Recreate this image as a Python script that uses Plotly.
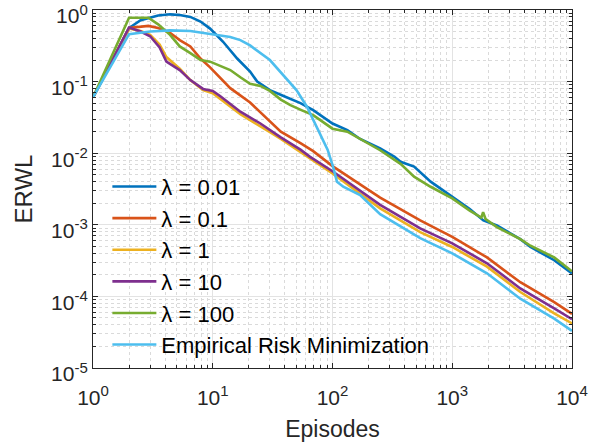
import plotly.graph_objects as go

# lambda = 0.01
x_l001 = [1, 2, 2.5, 3, 3.5, 4.4, 5.3, 6.5, 7.9, 9.5, 12.2, 16, 20.5, 23.5, 30, 39, 54, 69, 79,
          100, 133, 170, 250, 330, 370, 480, 660, 1000, 1400, 1820, 2360, 3700, 4500, 7100, 10000]
y_l001 = [0.060, 0.56, 0.72, 0.79, 0.84, 0.87, 0.85, 0.80, 0.69, 0.55, 0.36, 0.21, 0.138, 0.10, 0.076,
          0.063, 0.050, 0.040, 0.034, 0.026, 0.021, 0.0158, 0.0117, 0.0089, 0.0076, 0.0065, 0.0040,
          0.00245, 0.00166, 0.00115, 0.00098, 0.00063, 0.00049, 0.00032, 0.00021]

# lambda = 0.1
x_l01 = [1, 2, 2.9, 3.5, 4.4, 5.3, 6.5, 7.9, 9.5, 14, 20.5, 30, 37, 54, 69, 100, 250, 540, 1000,
         1950, 3700, 7100, 10000]
y_l01 = [0.060, 0.56, 0.60, 0.56, 0.48, 0.38, 0.31, 0.21, 0.158, 0.081, 0.051, 0.028, 0.020, 0.0138,
         0.0107, 0.0066, 0.0024, 0.00115, 0.00068, 0.00035, 0.000158, 0.000083, 0.000057]

# lambda = 1
x_l1 = [1, 2, 2.5, 3, 3.6, 4.1, 5.3, 6.5, 8.3, 10, 17, 25, 31, 37, 54, 65, 100, 250, 540, 1000,
        1950, 3700, 7100, 10000]
y_l1 = [0.060, 0.55, 0.51, 0.45, 0.33, 0.22, 0.151, 0.105, 0.076, 0.069, 0.035, 0.024, 0.019,
        0.0158, 0.0103, 0.0085, 0.0052, 0.0017, 0.00079, 0.00049, 0.00026, 0.000115, 0.000058,
        0.000042]

# lambda = 10
x_l10 = [1, 2, 2.5, 3, 3.6, 4.1, 5.3, 6.5, 8.3, 10, 11.5, 17, 25, 31, 37, 54, 65, 100, 250, 540,
         1000, 1950, 3700, 7100, 10000]
y_l10 = [0.060, 0.57, 0.50, 0.43, 0.30, 0.19, 0.145, 0.105, 0.079, 0.074, 0.063, 0.038, 0.026, 0.0204,
         0.0166, 0.0112, 0.0089, 0.0056, 0.0019, 0.00089, 0.00055, 0.00029, 0.000129, 0.000068,
         0.000048]

# lambda = 100
x_l100 = [1, 2, 2.9, 3.5, 4.4, 5.3, 6.5, 7.9, 9.5, 14, 17, 20.5, 25, 30, 37, 44.5, 55, 69, 100,
          133, 250, 370, 480, 660, 1000, 1400, 1750, 1810, 1900, 2360, 3700, 4500, 7100, 10000]
y_l100 = [0.060, 0.78, 0.78, 0.63, 0.45, 0.31, 0.25, 0.20, 0.19, 0.145, 0.115, 0.093, 0.087, 0.074,
          0.056, 0.047, 0.040, 0.034, 0.022, 0.020, 0.011, 0.0071, 0.0047, 0.0034, 0.00234,
          0.00158, 0.00126, 0.00150, 0.0012, 0.00093, 0.00063, 0.00051, 0.00035, 0.000224]

# empirical risk minimization
x_erm = [1, 2, 3, 4.4, 6.5, 10, 14, 17, 20.5, 30, 39, 50, 61, 74, 84, 91, 101, 109, 123, 170, 250,
         540, 1000, 1950, 3700, 7100, 10000]
y_erm = [0.060, 0.46, 0.50, 0.52, 0.51, 0.46, 0.42, 0.38, 0.32, 0.20, 0.123, 0.076, 0.045, 0.023,
         0.0141, 0.0112, 0.0065, 0.0040, 0.0034, 0.0026, 0.00141, 0.00065, 0.00040, 0.00021,
         0.000093, 0.000049, 0.000033]

series = [
    ('\u03bb = 0.01', x_l001, y_l001, '#0072BD'),
    ('\u03bb = 0.1', x_l01, y_l01, '#D95319'),
    ('\u03bb = 1', x_l1, y_l1, '#EDB120'),
    ('\u03bb = 10', x_l10, y_l10, '#7E2F8E'),
    ('\u03bb = 100', x_l100, y_l100, '#77AC30'),
    ('Empirical Risk Minimization', x_erm, y_erm, '#4DBEEE'),
]

fig = go.Figure()
for i, (name, xs, ys, color) in enumerate(series):
    fig.add_trace(go.Scatter(x=xs, y=ys, mode='lines', name=name, legendgroup=str(i),
                             line=dict(color=color, width=2.6)))

sup = '10<sup><span style="font-size:15px">%s</span></sup>'
x_major = [1, 10, 100, 1000, 10000]
x_text = [sup % k for k in range(5)]
y_major = [1e-5, 1e-4, 1e-3, 1e-2, 1e-1, 1]
y_text = [sup % ('-%d' % k if k else '0') for k in range(5, -1, -1)]
x_minor = [m * 10 ** d for d in range(4) for m in range(2, 10)]
y_minor = [m * 10 ** d for d in range(-5, 0) for m in range(2, 10)]

axis_common = dict(
    type='log', ticks='inside', ticklen=5, tickcolor='#262626', showline=True,
    linecolor='#262626', linewidth=1, mirror='ticks', showgrid=True, gridcolor='#e3e3e3',
    gridwidth=1, zeroline=False, automargin=False, ticklabeloverflow='allow',
    tickfont=dict(size=21, color='#262626'),
)

fig.update_xaxes(range=[0, 4], tickmode='array', tickvals=x_major, ticktext=x_text,
                 ticklabelstandoff=11,
                 minor=dict(tickmode='array', tickvals=x_minor, ticks='inside', ticklen=3,
                            tickcolor='#262626', showgrid=True, gridcolor='#dadada',
                            griddash='dot'),
                 title=dict(text='Episodes', font=dict(size=23, color='#262626'), standoff=12),
                 **axis_common)
fig.update_yaxes(range=[-5, 0], tickmode='array', tickvals=y_major, ticktext=y_text,
                 ticklabelshift=6,
                 minor=dict(tickmode='array', tickvals=y_minor, ticks='inside', ticklen=3,
                            tickcolor='#262626', showgrid=True, gridcolor='#dadada',
                            griddash='dot'),
                 title=dict(text='ERWL', font=dict(size=24, color='#262626'), standoff=11),
                 **axis_common)

fig.update_layout(
    width=591, height=448,
    margin=dict(l=93, r=19, t=10, b=80),
    paper_bgcolor='white', plot_bgcolor='white',
    font=dict(family='Liberation Sans, Arial, sans-serif', color='#262626'),
    showlegend=True,
    legend=dict(x=0.03, y=0.565, xanchor='left', yanchor='top', bgcolor='rgba(0,0,0,0)',
                borderwidth=0, font=dict(size=22, color='#000000'), tracegroupgap=0,
                itemwidth=44),
)

fig.write_html("out.html", config={'displayModeBar': False},
               post_script="document.body.style.margin='0';")
